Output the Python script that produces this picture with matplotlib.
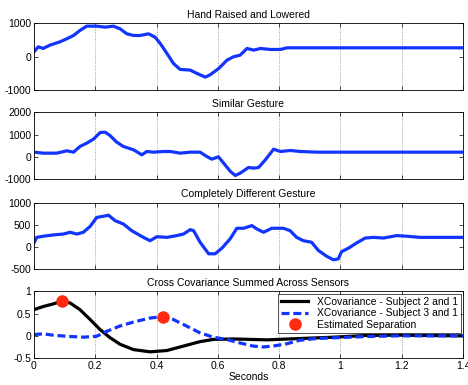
import numpy as np
import matplotlib
matplotlib.use("Agg")
import matplotlib.pyplot as plt

plt.rcParams['font.family'] = ['Liberation Sans', 'DejaVu Sans']
plt.rcParams['font.size'] = 7.5

# panel 1 - hand raised and lowered
t1 = [0, 0.014, 0.03, 0.052, 0.085, 0.107, 0.129, 0.150, 0.172, 0.205, 0.232, 0.259, 0.281,
      0.303, 0.325, 0.346, 0.374, 0.395, 0.412, 0.434, 0.455, 0.477, 0.510, 0.532, 0.559,
      0.575, 0.603, 0.630, 0.651, 0.673, 0.695, 0.717, 0.739, 0.771, 0.804, 0.826, 0.87, 1.4]
v1 = [150, 300, 250, 350, 450, 540, 640, 790, 920, 920, 890, 920, 840,
      690, 640, 640, 690, 590, 400, 100, -200, -380, -400, -500, -610,
      -540, -350, -100, 0, 50, 250, 200, 250, 220, 220, 270, 270, 270]

# panel 2 - similar gesture
t2 = [0, 0.03, 0.074, 0.107, 0.129, 0.150, 0.172, 0.194, 0.216, 0.232, 0.248, 0.270, 0.292,
      0.325, 0.352, 0.368, 0.390, 0.423, 0.445, 0.477, 0.510, 0.542, 0.564, 0.580, 0.602,
      0.619, 0.641, 0.657, 0.673, 0.700, 0.717, 0.733, 0.755, 0.782, 0.804, 0.837, 0.869,
      0.924, 1.4]
v2 = [210, 165, 165, 270, 210, 465, 615, 795, 1095, 1110, 960, 660, 465,
      315, 90, 240, 210, 240, 240, 165, 210, 210, 15, -105, 0,
      -285, -660, -840, -735, -480, -510, -480, -135, 345, 240, 285, 240,
      210, 210]

# panel 3 - completely different gesture
t3 = [0, 0.009, 0.03, 0.063, 0.096, 0.118, 0.140, 0.161, 0.183, 0.205, 0.227, 0.243, 0.265,
      0.292, 0.319, 0.357, 0.379, 0.401, 0.434, 0.466, 0.488, 0.510, 0.521, 0.542, 0.570,
      0.591, 0.613, 0.640, 0.662, 0.684, 0.711, 0.727, 0.749, 0.776, 0.814, 0.836, 0.857,
      0.879, 0.906, 0.928, 0.955, 0.977, 0.993, 1.004, 1.026, 1.053, 1.081, 1.108, 1.140,
      1.184, 1.217, 1.260, 1.4]
v3 = [90, 215, 240, 270, 290, 330, 290, 330, 460, 665, 690, 715, 590,
      515, 365, 215, 140, 230, 215, 255, 290, 390, 365, 105, -155,
      -155, -30, 180, 420, 420, 480, 405, 330, 420, 420, 365, 215,
      140, 105, -80, -210, -290, -270, -105, -30, 90, 200, 215, 200,
      255, 240, 215, 215]

# panel 4 - cross covariance
t4a = [0, 0.03, 0.063, 0.09, 0.118, 0.15, 0.183, 0.216, 0.248, 0.281, 0.325, 0.379, 0.434,
       0.488, 0.542, 0.586, 0.651, 0.760, 0.869, 0.978, 1.087, 1.196, 1.25, 1.4]
c21 = [0.59, 0.66, 0.72, 0.78, 0.74, 0.59, 0.37, 0.14, -0.04, -0.19, -0.31, -0.36, -0.33,
       -0.23, -0.13, -0.08, -0.07, -0.09, -0.06, -0.03, 0.01, 0.015, 0.01, 0.0]
t4b = [0, 0.03, 0.063, 0.107, 0.161, 0.204, 0.237, 0.28, 0.324, 0.378, 0.416, 0.454, 0.498,
       0.541, 0.585, 0.628, 0.672, 0.715, 0.748, 0.780, 0.824, 0.867, 0.922, 0.976, 1.03,
       1.085, 1.19, 1.4]
c31 = [0.03, 0.045, 0.015, -0.01, -0.03, -0.01, 0.10, 0.22, 0.31, 0.40, 0.43, 0.37, 0.22,
       0.07, -0.03, -0.08, -0.16, -0.23, -0.25, -0.23, -0.18, -0.10, -0.06, -0.045, -0.03,
       -0.015, 0.0, 0.0]
sep_t = [0.09, 0.42]
sep_v = [0.78, 0.43]

titles = ['Hand Raised and Lowered', 'Similar Gesture', 'Completely Different Gesture',
          'Cross Covariance Summed Across Sensors']
yticks = [[-1000, 0, 1000], [-1000, 0, 1000, 2000], [-500, 0, 500, 1000], [-0.5, 0, 0.5, 1]]
xticks = [0, 0.2, 0.4, 0.6, 0.8, 1.0, 1.2, 1.4]

fig = plt.figure(figsize=(4.68, 3.85), dpi=100)
bottoms = [0.766, 0.535, 0.301, 0.070]
blue = '#1234ff'
axes = []
for i in range(4):
    ax = fig.add_axes([0.0726, bottoms[i], 0.9167, 0.173])
    axes.append(ax)
    ax.set_xlim(0, 1.4)
    ax.set_ylim(yticks[i][0], yticks[i][-1])
    ax.set_yticks(yticks[i])
    ax.set_yticklabels([('%g' % y) for y in yticks[i]])
    ax.set_xticks(xticks)
    ax.grid(axis='x', linestyle=':', color='#888888', linewidth=0.6)
    ax.tick_params(direction='in', length=3, width=0.5, top=True, right=True, labelsize=7.5, pad=2)
    for s in ax.spines.values():
        s.set_linewidth(0.6)
    ax.set_title(titles[i], fontsize=7.5, pad=4)
    if i < 3:
        ax.set_xticklabels([])

axes[0].plot(t1, v1, color=blue, lw=2.3)
axes[1].plot(t2, v2, color=blue, lw=2.3)
axes[2].plot(t3, v3, color=blue, lw=2.3)

ax = axes[3]
ax.set_xticklabels([('%g' % x) for x in xticks])
ax.plot(t4a, c21, color='black', lw=2.3, label='XCovariance - Subject 2 and 1')
ax.plot(t4b, c31, color=blue, lw=2.3, ls='--', dashes=(2.5, 1.2), label='XCovariance - Subject 3 and 1')
ax.plot(sep_t, sep_v, 'o', color='#ff2a10', ms=8, ls='none', label='Estimated Separation')
ax.set_xlabel('Seconds', fontsize=7.5, labelpad=1)
leg = ax.legend(loc='upper right', fontsize=7.5, frameon=True, fancybox=False,
                edgecolor='black', borderpad=0.3, labelspacing=0.15, handlelength=2.6,
                borderaxespad=0.2)
leg.get_frame().set_linewidth(0.6)

fig.savefig('out.png', dpi=100)
